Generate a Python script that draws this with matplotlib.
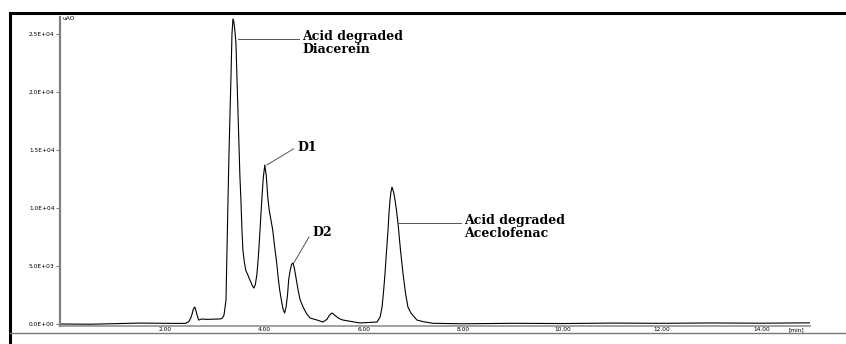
import matplotlib
matplotlib.use('Agg')
import matplotlib.pyplot as plt
from matplotlib.lines import Line2D

# retention time (min) and absorbance (uAU)
t = [-0.11, 0.5, 1.0, 1.5, 2.0, 2.3, 2.42, 2.48, 2.52, 2.55, 2.57, 2.60, 2.62, 2.64, 2.66, 2.68,
     2.74, 2.85, 3.0, 3.12, 3.16,
     3.19, 3.23, 3.25, 3.27, 3.29, 3.33, 3.35, 3.37, 3.39, 3.41,
     3.43, 3.47, 3.51, 3.53, 3.55, 3.57, 3.60, 3.63, 3.67, 3.70, 3.73, 3.76, 3.79,
     3.82, 3.85, 3.87, 3.89, 3.92, 3.95, 3.98, 4.01, 4.04, 4.07, 4.10, 4.17, 4.21, 4.25, 4.28,
     4.31, 4.35, 4.38, 4.41, 4.44,
     4.47, 4.49, 4.52, 4.55, 4.58, 4.61, 4.65, 4.68, 4.72, 4.78, 4.85, 4.92, 5.0, 5.06, 5.18,
     5.26, 5.31, 5.36, 5.42, 5.5, 5.58, 5.92, 6.27,
     6.33, 6.37, 6.40, 6.43, 6.46, 6.49, 6.51, 6.53, 6.55, 6.57, 6.60, 6.63, 6.66, 6.69, 6.74,
     6.79, 6.84, 6.89, 6.95, 7.07, 7.2, 7.39,
     8.0, 9.0, 10.0, 11.0, 12.0, 13.0, 14.0, 14.98]
au = [0, -20, 30, 80, 60, 50, 60, 200, 500, 900, 1250, 1470, 1250, 900, 600, 340,
      430, 400, 420, 440, 520,
      780, 2070, 6380, 10700, 14700, 21300, 25000, 26300, 26000, 25200,
      24200, 18400, 12700, 10700, 8200, 6380, 5300, 4600, 4220, 3900, 3620, 3300, 3100,
      3400, 4220, 5200, 6380, 8500, 10700, 12600, 13700, 12800, 10950, 9800, 8100, 6600, 5260, 4000,
      2930, 1900, 1250, 950, 1500,
      2600, 3790, 4600, 5150, 5260, 4700, 3700, 2930, 2100, 1470, 900, 520, 420, 345, 170,
      400, 750, 950, 750, 480, 345, 90, 170,
      600, 1470, 2800, 4400, 6300, 8100, 9600, 10700, 11400, 11800, 11400, 10700, 9800, 8700, 6400,
      4400, 2700, 1470, 950, 345, 200, 60,
      20, 60, 40, 80, 60, 90, 70, 100]

y_ticks = [0, 5000, 10000, 15000, 20000, 25000]
y_labels = ['0.0E+00', '5.0E+03', '1.0E+04', '1.5E+04', '2.0E+04', '2.5E+04']
x_ticks = [2, 4, 6, 8, 10, 12, 14]
x_labels = ['2.00', '4.00', '6.00', '8.00', '10.00', '12.00', '14.00']

W, H = 846, 344
fig = plt.figure(figsize=(W / 100, H / 100), dpi=100)
ax = fig.add_axes([60 / W, 1 - 326 / H, (810 - 60) / W, (326 - 17) / H])

ax.plot(t, au, color='black', lw=0.8)
ax.set_xlim(-0.11, 14.98)
ax.set_ylim(-172, 26460)

for s in ['top', 'right']:
    ax.spines[s].set_visible(False)
ax.spines['left'].set_color('#808080')
ax.spines['left'].set_linewidth(1.6)
ax.spines['bottom'].set_color('#909090')
ax.spines['bottom'].set_linewidth(1.2)

ax.set_yticks(y_ticks)
ax.set_yticklabels(y_labels)
ax.set_xticks(x_ticks)
ax.set_xticklabels(x_labels)
ax.tick_params(axis='y', length=3, width=0.8, color='#808080', labelsize=4.2, pad=1)
ax.tick_params(axis='x', length=0, labelsize=4.2, pad=1)

# peak labels
lab = dict(fontsize=9, fontweight='bold', family='DejaVu Serif', va='center', ha='left')
lc = dict(color='#555555', lw=0.7)

ax.plot([3.47, 4.70], [24570, 24570], **lc)
ax.text(4.76, 24750, 'Acid degraded', **lab)
ax.text(4.76, 23650, 'Diacerein', **lab)

ax.plot([4.05, 4.59], [13700, 15100], **lc)
ax.text(4.67, 15250, 'D1', **lab)

ax.plot([4.60, 4.90], [5300, 7500], **lc)
ax.text(4.96, 7850, 'D2', **lab)

ax.plot([6.69, 7.96], [8700, 8700], **lc)
ax.text(8.02, 8880, 'Acid degraded', **lab)
ax.text(8.02, 7800, 'Aceclofenac', **lab)

fig.text(62 / W, 1 - 18 / H, 'uAO', fontsize=4.2, va='center', ha='left')
fig.text(788 / W, 1 - 330 / H, '[min]', fontsize=4.2, va='center', ha='left')

# frame lines of the original report page
fig.add_artist(Line2D([10 / W, 1], [1 - 13 / H] * 2, color='black', lw=2.2, transform=fig.transFigure))
fig.add_artist(Line2D([10 / W] * 2, [0, 1 - 13 / H], color='black', lw=2.2, transform=fig.transFigure))
fig.add_artist(Line2D([10 / W, 1], [1 - 333 / H] * 2, color='#777777', lw=1, transform=fig.transFigure))

fig.savefig('out.png', dpi=100)
